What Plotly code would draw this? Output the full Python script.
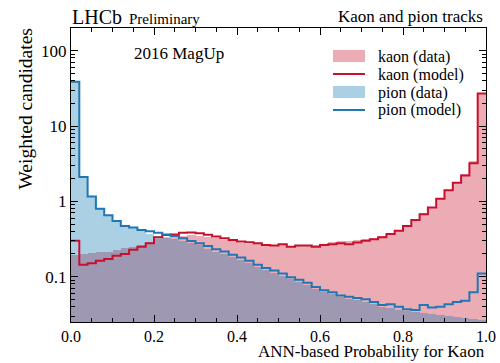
import plotly.graph_objects as go

# ---------------- data ----------------
bin_edges = [round(i * 0.02, 2) for i in range(51)]
bin_centers = [round(0.01 + i * 0.02, 3) for i in range(50)]

kaon_data = [0.195, 0.20, 0.205, 0.21, 0.215, 0.225, 0.24, 0.25, 0.265, 0.29,
             0.315, 0.33, 0.34, 0.35, 0.355, 0.35, 0.34, 0.325, 0.31, 0.295,
             0.28, 0.275, 0.27, 0.26, 0.255, 0.26, 0.255, 0.26, 0.265, 0.265,
             0.275, 0.285, 0.295, 0.295, 0.305, 0.315, 0.33, 0.345, 0.38, 0.42,
             0.48, 0.57, 0.69, 0.85, 1.1, 1.42, 1.8, 2.3, 3.4, 27.0]
kaon_model = [0.30, 0.144, 0.151, 0.162, 0.172, 0.189, 0.20, 0.227, 0.25, 0.277,
              0.333, 0.357, 0.364, 0.383, 0.386, 0.376, 0.36, 0.34, 0.323, 0.307,
              0.292, 0.287, 0.277, 0.264, 0.26, 0.27, 0.25, 0.26, 0.26, 0.25,
              0.264, 0.27, 0.277, 0.27, 0.283, 0.30, 0.313, 0.333, 0.368, 0.407,
              0.47, 0.563, 0.675, 0.826, 1.08, 1.40, 1.76, 2.2, 3.2, 27.0]
pion_data = [38.6, 2.1, 1.16, 0.80, 0.655, 0.546, 0.469, 0.45, 0.41, 0.37,
             0.35, 0.335, 0.32, 0.30, 0.28, 0.26, 0.235, 0.215, 0.20, 0.18,
             0.165, 0.15, 0.135, 0.122, 0.112, 0.102, 0.092, 0.085, 0.077, 0.068,
             0.062, 0.058, 0.053, 0.051, 0.049, 0.046, 0.043, 0.040, 0.038, 0.036,
             0.035, 0.034, 0.033, 0.032, 0.031, 0.030, 0.029, 0.028, 0.027, 0.0265]
pion_model = [38.6, 2.1, 1.16, 0.80, 0.655, 0.546, 0.469, 0.45, 0.416, 0.40,
              0.383, 0.364, 0.347, 0.323, 0.298, 0.277, 0.255, 0.231, 0.216, 0.195,
              0.18, 0.162, 0.144, 0.13, 0.121, 0.11, 0.098, 0.091, 0.083, 0.073,
              0.066, 0.062, 0.056, 0.054, 0.052, 0.050, 0.046, 0.042, 0.043, 0.040,
              0.037, 0.036, 0.042, 0.039, 0.040, 0.043, 0.046, 0.048, 0.062, 0.11]

x_tickvals = [0.0, 0.2, 0.4, 0.6, 0.8, 1.0]
x_ticktext = ["0.0", "0.2", "0.4", "0.6", "0.8", "1.0"]
y_tickvals = [0.1, 1, 10, 100]
y_ticktext = ["0.1", "1", "10", "100"]

legend_labels = ["kaon (data)", "kaon (model)", "pion (data)", "pion (model)"]

# ---------------- style ----------------
FONT = "Liberation Serif"
RED = "rgb(200,16,46)"
BLUE = "rgb(31,119,180)"
RED_FILL = "rgba(200,16,46,0.35)"
BLUE_FILL = "rgba(0,112,172,0.33)"

W, H = 500, 363
L, R, T, B = 71, 14, 28, 41
PW, PH = W - L - R, H - T - B


def pxx(x):
    return (x - L) / PW


def pxy(y):
    return (H - B - y) / PH


fig = go.Figure()
fig.add_trace(go.Bar(x=bin_centers, y=kaon_data, width=0.02,
                     marker=dict(color=RED_FILL, line=dict(width=0)),
                     showlegend=False))
fig.add_trace(go.Bar(x=bin_centers, y=pion_data, width=0.02,
                     marker=dict(color=BLUE_FILL, line=dict(width=0)),
                     showlegend=False))
fig.add_trace(go.Scatter(x=bin_edges, y=kaon_model + [kaon_model[-1]],
                         mode="lines", line=dict(color=RED, width=2, shape="hv"),
                         showlegend=False))
fig.add_trace(go.Scatter(x=bin_edges, y=pion_model + [pion_model[-1]],
                         mode="lines", line=dict(color=BLUE, width=2, shape="hv"),
                         showlegend=False))

minor_y = []
for dec in [0.01, 0.1, 1, 10, 100]:
    for k in range(2, 10):
        v = round(dec * k, 6)
        if 0.025 <= v <= 200:
            minor_y.append(v)

axis_common = dict(showline=True, linecolor="black", linewidth=1, mirror="allticks",
                   ticks="inside", tickcolor="black", ticklen=7, tickwidth=1,
                   showgrid=False, zeroline=False, automargin=False)

fig.update_layout(
    width=W, height=H,
    margin=dict(l=L, r=R, t=T, b=B, pad=0, autoexpand=False),
    paper_bgcolor="white", plot_bgcolor="white",
    barmode="overlay", bargap=0,
    showlegend=False,
    font=dict(family=FONT, color="black"),
    xaxis=dict(range=[0, 1], tickvals=x_tickvals, ticktext=x_ticktext,
               tickfont=dict(family=FONT, size=16, color="black"),
               minor=dict(ticks="inside", ticklen=4, tickcolor="black", dtick=0.05,
                          tick0=0, showgrid=False),
               **axis_common),
    yaxis=dict(type="log", range=[-1.602, 2.301], tickvals=y_tickvals,
               ticktext=y_ticktext,
               tickfont=dict(family=FONT, size=17, color="black"),
               minor=dict(ticks="inside", ticklen=4, tickcolor="black",
                          tickvals=minor_y, showgrid=False),
               **axis_common),
)

ann = []
ann.append(dict(text="LHCb", x=pxx(71), y=pxy(29.5), xanchor="left", yanchor="bottom",
                font=dict(size=20)))
ann.append(dict(text="Preliminary", x=pxx(128), y=pxy(28), xanchor="left", yanchor="bottom",
                font=dict(size=15)))
ann.append(dict(text="Kaon and pion tracks", x=pxx(484), y=pxy(26.5), xanchor="right",
                yanchor="bottom", font=dict(size=17)))
ann.append(dict(text="2016 MagUp", x=pxx(133), y=pxy(64), xanchor="left", yanchor="bottom",
                font=dict(size=17)))
ann.append(dict(text="ANN-based Probability for Kaon", x=pxx(486), y=pxy(362),
                xanchor="right", yanchor="bottom", font=dict(size=17)))
ann.append(dict(text="Weighted candidates", x=pxx(25), y=pxy(28), xanchor="center",
                yanchor="top", textangle=-90, font=dict(size=19.5)))

row_c = [56, 74, 92, 110]
for i, lab in enumerate(legend_labels):
    ann.append(dict(text=lab, x=pxx(377), y=pxy(row_c[i] + 10.5), xanchor="left",
                    yanchor="bottom", font=dict(size=16)))

for a in ann:
    a.update(xref="paper", yref="paper", showarrow=False, borderpad=0)
    a["font"].update(family=FONT, color="black")
fig.update_layout(annotations=ann)

shapes = []
for i, col in [(0, RED_FILL), (2, BLUE_FILL)]:
    shapes.append(dict(type="rect", xref="paper", yref="paper",
                       x0=pxx(333), x1=pxx(365), y0=pxy(row_c[i] + 6), y1=pxy(row_c[i] - 6),
                       fillcolor=col, line=dict(width=0)))
for i, col in [(1, RED), (3, BLUE)]:
    shapes.append(dict(type="line", xref="paper", yref="paper",
                       x0=pxx(333), x1=pxx(365), y0=pxy(row_c[i]), y1=pxy(row_c[i]),
                       line=dict(color=col, width=2)))
fig.update_layout(shapes=shapes)

fig.write_html("out.html")
